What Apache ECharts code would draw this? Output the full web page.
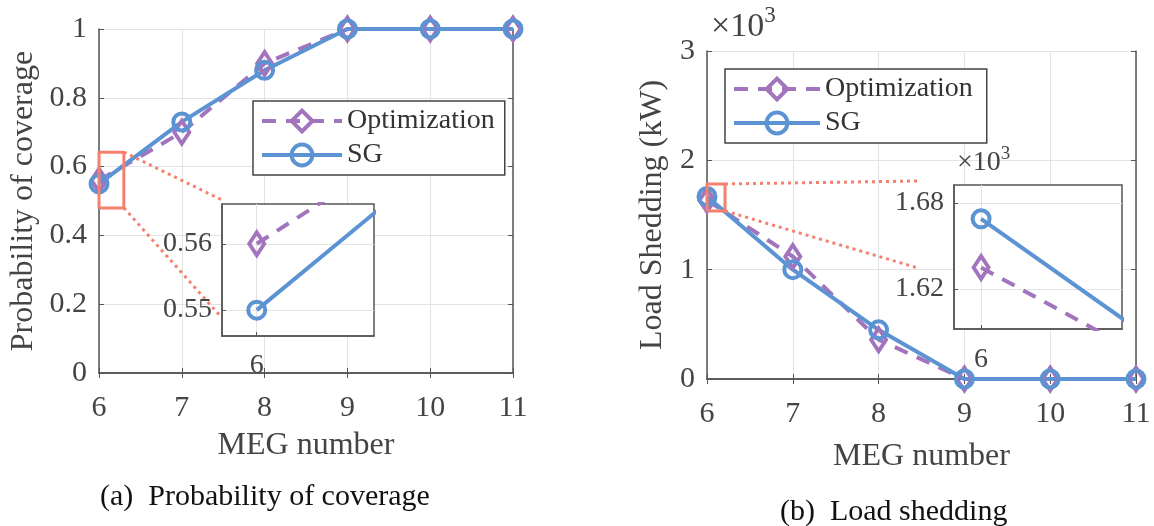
<!DOCTYPE html>
<html>
<head>
<meta charset="utf-8">
<script src="https://cdn.jsdelivr.net/npm/echarts@6/dist/echarts.min.js"></script>
<style>
  html, body { margin: 0; padding: 0; background: #fff; }
  #chart { width: 1154px; height: 526px; }
</style>
</head>
<body>
<div id="chart"></div>
<script>
// ---------- data ----------
const megNumbers = [6, 7, 8, 9, 10, 11];
const coverageOptimization = [0.56, 0.70, 0.90, 1, 1, 1];
const coverageSG = [0.55, 0.73, 0.88, 1, 1, 1];
// load shedding in units of 10^3 kW
const sheddingOptimization = [1.635, 1.12, 0.36, 0, 0, 0];
const sheddingSG = [1.669, 1.00, 0.45, 0, 0, 0];

const seriesNames = ['Optimization', 'SG'];
const xTickLabels = ['6', '7', '8', '9', '10', '11'];
const coverageTicks = ['0', '0.2', '0.4', '0.6', '0.8', '1'];
const sheddingTicks = ['0', '1', '2', '3'];
const coverageInsetTicks = [0.55, 0.56];
const sheddingInsetTicks = [1.62, 1.68];
const insetXTicks = [6];

// zoom annotations (data units)
const coverageZoomBox = [[6, 0.48], [6.30, 0.48], [6.30, 0.642], [6, 0.642]];
const coverageZoomLineA = [[6.30, 0.642], [7.486, 0.503]];
const coverageZoomLineB = [[6.30, 0.48], [7.486, 0.16]];
const sheddingZoomBox = [[6, 1.537], [6.21, 1.537], [6.21, 1.784], [6, 1.784]];
const sheddingZoomLineA = [[6.21, 1.784], [8.46, 1.811]];
const sheddingZoomLineB = [[6.21, 1.537], [8.46, 1.015]];

// ---------- styles ----------
const FONT = 'Liberation Serif';
const BLUE = '#5b93d3';
const PURPLE = '#a274bd';
const RED = '#f6806e';
const AXIS = '#555555';
const GRIDC = '#e3e3e3';
const TXT = '#444444';

const pair = (xs, ys) => xs.map((x, i) => [x, ys[i]]);

function mainX(gridIndex) {
  return [
    { type: 'value', gridIndex, min: 6, max: 11, interval: 1, position: 'bottom',
      axisLine: { lineStyle: { color: AXIS, width: 1.5 } },
      axisTick: { inside: true, length: 5, lineStyle: { color: AXIS } },
      axisLabel: { fontFamily: FONT, fontSize: 30, color: TXT, margin: 20,
        formatter: v => xTickLabels[megNumbers.indexOf(v)] },
      splitLine: { show: true, lineStyle: { color: GRIDC, width: 1 } },
      name: 'MEG number', nameLocation: 'middle', nameGap: gridIndex === 0 ? 57 : 62,
      nameTextStyle: { fontFamily: FONT, fontSize: 32, color: TXT }, z: 0 },
    { type: 'value', gridIndex, min: 6, max: 11, interval: 1, position: 'top',
      axisLine: { lineStyle: { color: AXIS, width: 1.5 } },
      axisTick: { inside: true, length: 5, lineStyle: { color: AXIS } },
      axisLabel: { show: false }, splitLine: { show: false }, z: 0 }
  ];
}
function mainY(gridIndex, max, labels, name, gap) {
  const step = max === 1 ? 0.2 : 1;
  return [
    { type: 'value', gridIndex, min: 0, max: max, interval: step, position: 'left',
      axisLine: { show: true, lineStyle: { color: AXIS, width: 1.5 } },
      axisTick: { show: true, inside: true, length: 5, lineStyle: { color: AXIS } },
      axisLabel: { fontFamily: FONT, fontSize: 30, color: TXT, margin: 12,
        formatter: v => labels[Math.round(v / step)] },
      splitLine: { show: true, lineStyle: { color: GRIDC, width: 1 } },
      name: name, nameLocation: 'middle', nameGap: gap, nameRotate: 90,
      nameTextStyle: { fontFamily: FONT, fontSize: 32, color: TXT }, z: 0 },
    { type: 'value', gridIndex, min: 0, max: max, interval: step, position: 'right',
      axisLine: { show: true, lineStyle: { color: AXIS, width: 1.5 } },
      axisTick: { show: true, inside: true, length: 5, lineStyle: { color: AXIS } },
      axisLabel: { show: false }, splitLine: { show: false }, z: 0 }
  ];
}
function insetX(gridIndex, min, max, margin) {
  return { type: 'value', gridIndex, min, max, position: 'bottom',
    axisLine: { show: true, lineStyle: { color: AXIS, width: 1.5 } },
    axisTick: { inside: true, length: 4, lineStyle: { color: AXIS }, customValues: insetXTicks },
    axisLabel: { fontFamily: FONT, fontSize: 28, color: TXT, margin, customValues: insetXTicks,
      formatter: v => String(v) },
    splitLine: { show: true, lineStyle: { color: GRIDC, width: 1 } }, z: 4 };
}
function insetY(gridIndex, min, max, ticks, margin) {
  return { type: 'value', gridIndex, min, max, position: 'left',
    axisLine: { show: true, lineStyle: { color: AXIS, width: 1.5 } },
    axisTick: { show: true, inside: true, length: 4, lineStyle: { color: AXIS }, customValues: ticks },
    axisLabel: { fontFamily: FONT, fontSize: 28, color: TXT, margin, customValues: ticks,
      formatter: v => v.toFixed(2) },
    splitLine: { show: true, lineStyle: { color: GRIDC, width: 1 } }, z: 4 };
}

function optSeries(data, xi, yi, z, clip) {
  return { name: seriesNames[0], type: 'line', xAxisIndex: xi, yAxisIndex: yi, data,
    symbol: 'diamond', symbolSize: [15, 23], clip, z,
    lineStyle: { color: PURPLE, width: 4, type: [14, 10] },
    itemStyle: { color: 'rgba(255,255,255,0)', borderColor: PURPLE, borderWidth: 4 } };
}
function sgSeries(data, xi, yi, z, clip) {
  return { name: seriesNames[1], type: 'line', xAxisIndex: xi, yAxisIndex: yi, data,
    symbol: 'circle', symbolSize: 17, clip, z,
    lineStyle: { color: BLUE, width: 4 },
    itemStyle: { color: 'rgba(255,255,255,0)', borderColor: BLUE, borderWidth: 4 } };
}
function redSeries(data, xi, yi, dotted) {
  return { type: 'line', xAxisIndex: xi, yAxisIndex: yi, data, symbol: 'none', silent: true,
    clip: false, z: 3, legendHoverLink: false,
    lineStyle: { color: RED, width: 3, type: dotted ? [3, 4] : 'solid' } };
}
function legendAt(left, top, itemWidth, padRight) {
  return { data: seriesNames, orient: 'vertical', left, top,
    padding: [6, padRight, 6, 7], itemGap: 6, itemWidth, itemHeight: 26,
    backgroundColor: '#ffffff', borderColor: '#444', borderWidth: 1.5, borderRadius: 0,
    lineStyle: { width: 4 }, itemStyle: { borderWidth: 4 },
    textStyle: { fontFamily: FONT, fontSize: 28, color: '#333' }, selectedMode: false };
}

const chart = echarts.init(document.getElementById('chart'), null, { renderer: 'canvas' });
const option = {
  animation: false,
  backgroundColor: '#ffffff',
  textStyle: { fontFamily: FONT },
  grid: [
    { left: 99, top: 29, width: 414, height: 344, z: 0 },
    { left: 222, top: 204, width: 152, height: 132, show: true, backgroundColor: '#ffffff',
      borderColor: AXIS, borderWidth: 1.5, z: 3 },
    { left: 707, top: 51, width: 429, height: 328, z: 0 },
    { left: 954, top: 185, width: 168, height: 144, show: true, backgroundColor: '#ffffff',
      borderColor: AXIS, borderWidth: 1.5, z: 3 }
  ],
  xAxis: [
    ...mainX(0),
    insetX(1, 5.976, 6.081, 16),
    ...mainX(2),
    insetX(3, 5.98, 6.104, 17)
  ],
  yAxis: [
    ...mainY(0, 1, coverageTicks, 'Probability of coverage', 59),
    insetY(1, 0.5461, 0.566, coverageInsetTicks, 10),
    ...mainY(2, 3, sheddingTicks, 'Load Shedding (kW)', 38),
    insetY(3, 1.592, 1.6926, sheddingInsetTicks, 10)
  ],
  legend: [
    legendAt(253, 101, 80, 10),
    legendAt(725, 69, 86, 14)
  ],
  series: [
    optSeries(pair(megNumbers, coverageOptimization), 0, 0, 2, false),
    sgSeries(pair(megNumbers, coverageSG), 0, 0, 2, false),
    optSeries(pair(megNumbers, coverageOptimization), 2, 2, 5, true),
    sgSeries(pair(megNumbers, coverageSG), 2, 2, 5, true),
    optSeries(pair(megNumbers, sheddingOptimization), 3, 3, 2, false),
    sgSeries(pair(megNumbers, sheddingSG), 3, 3, 2, false),
    optSeries(pair(megNumbers, sheddingOptimization), 5, 5, 5, true),
    sgSeries(pair(megNumbers, sheddingSG), 5, 5, 5, true),
    redSeries(coverageZoomBox.concat([coverageZoomBox[0]]), 0, 0, false),
    redSeries(coverageZoomLineA, 0, 0, true),
    redSeries(coverageZoomLineB, 0, 0, true),
    redSeries(sheddingZoomBox.concat([sheddingZoomBox[0]]), 3, 3, false),
    redSeries(sheddingZoomLineA, 3, 3, true),
    redSeries(sheddingZoomLineB, 3, 3, true)
  ],
  graphic: [
    { type: 'text', left: 711, top: 4, z: 10,
      style: { text: '{a|×10}{b|3}', rich: {
        a: { fontFamily: FONT, fontSize: 34, fill: TXT, verticalAlign: 'bottom', lineHeight: 40 },
        b: { fontFamily: FONT, fontSize: 23, fill: TXT, verticalAlign: 'top', lineHeight: 40, padding: [0, 0, 16, 0] } } } },
    { type: 'text', left: 957, top: 145, z: 10,
      style: { text: '{a|×10}{b|3}', rich: {
        a: { fontFamily: FONT, fontSize: 28, fill: TXT, verticalAlign: 'bottom', lineHeight: 32 },
        b: { fontFamily: FONT, fontSize: 19, fill: TXT, verticalAlign: 'top', lineHeight: 32, padding: [0, 0, 13, 0] } } } },
    { type: 'text', left: 100, top: 482, z: 10,
      style: { text: '(a)  Probability of coverage', fontFamily: FONT, fontSize: 30, fill: '#111' } },
    { type: 'text', left: 780, top: 497, z: 10,
      style: { text: '(b)  Load shedding', fontFamily: FONT, fontSize: 30, fill: '#111' } }
  ]
};
chart.setOption(option);
</script>
</body>
</html>
